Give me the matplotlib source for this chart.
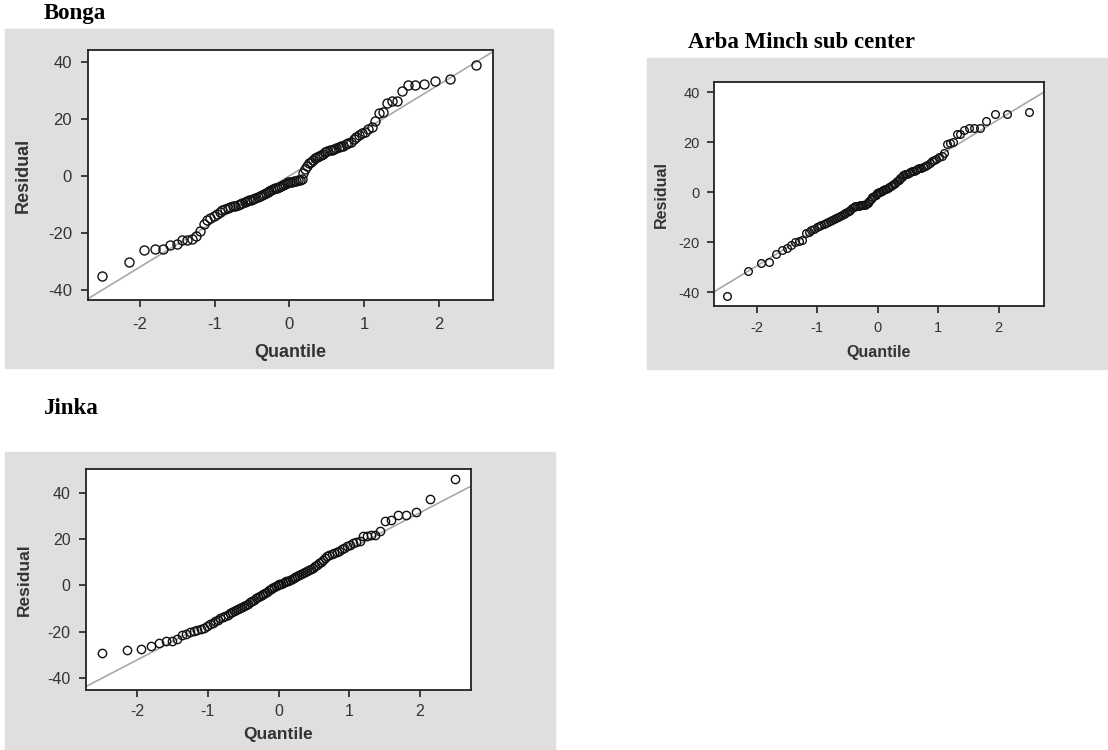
import matplotlib
matplotlib.use("Agg")
import matplotlib.pyplot as plt
from matplotlib.patches import Rectangle
from statistics import NormalDist
import numpy as np

plt.rcParams['axes.unicode_minus'] = False
plt.rcParams['font.family'] = ['Liberation Sans', 'DejaVu Sans']

# residuos ordenados (100 por estacao)
bonga_res = [-35.0, -30.3, -25.9, -25.7, -25.5, -24.1, -23.9, -22.5, -22.4, -22.3,
             -20.9, -19.2, -17.0, -15.6, -14.8, -14.0, -13.2, -12.5, -12.0, -11.6,
             -11.3, -11.0, -10.7, -10.4, -10.1, -9.8, -9.5, -9.2, -8.9, -8.6,
             -8.3, -8.0, -7.7, -7.4, -7.1, -6.7, -6.3, -6.0, -5.6, -5.3,
             -5.0, -4.7, -4.4, -4.1, -3.8, -3.5, -3.2, -2.9, -2.6, -2.3,
             -2.1, -2.0, -1.8, -1.7, -1.5, -1.3, -1.0, 1.0, 2.4, 3.6,
             4.4, 5.0, 5.6, 6.1, 6.6, 7.0, 7.4, 7.8, 8.2, 8.6,
             8.9, 9.2, 9.5, 9.8, 10.0, 10.3, 10.6, 11.0, 11.5, 12.0,
             12.8, 13.5, 14.4, 15.0, 15.5, 16.3, 17.2, 19.2, 22.2, 22.3,
             25.4, 26.2, 26.4, 29.7, 31.8, 32.0, 32.1, 33.2, 33.8, 38.7]

arba_res = [-41.4, -31.6, -28.4, -27.8, -24.7, -23.1, -22.4, -21.2, -20.0, -19.5,
            -19.1, -16.3, -15.7, -15.1, -14.5, -13.9, -13.4, -12.9, -12.5, -12.1,
            -11.7, -11.3, -10.9, -10.5, -10.1, -9.7, -9.3, -9.0, -8.6, -8.3,
            -7.9, -7.5, -6.9, -6.3, -5.9, -5.6, -5.4, -5.3, -5.2, -5.1,
            -5.0, -4.9, -4.8, -4.4, -3.4, -2.6, -2.0, -1.4, -0.9, -0.4,
            0.0, 0.3, 0.6, 0.9, 1.2, 1.5, 1.8, 2.1, 2.4, 2.8,
            3.3, 3.8, 4.4, 5.0, 5.6, 6.2, 6.8, 7.2, 7.5, 7.8,
            8.1, 8.4, 8.7, 9.0, 9.3, 9.6, 9.9, 10.2, 10.5, 11.0,
            11.7, 12.4, 13.0, 13.5, 14.0, 14.6, 15.8, 19.2, 19.8, 20.2,
            23.2, 23.4, 24.8, 25.6, 25.8, 25.9, 28.6, 31.3, 31.4, 32.0]

jinka_res = [-29.3, -28.1, -27.5, -26.2, -24.8, -24.2, -24.0, -23.1, -21.6, -20.9,
             -20.1, -19.8, -19.5, -19.1, -18.3, -17.6, -16.9, -16.1, -15.4, -14.9,
             -14.3, -13.7, -13.2, -12.7, -12.1, -11.6, -11.1, -10.6, -10.2, -9.8,
             -9.5, -9.1, -8.6, -8.0, -7.4, -6.8, -6.2, -5.6, -5.1, -4.6,
             -4.2, -3.7, -3.2, -2.7, -2.2, -1.7, -1.2, -0.7, -0.3, 0.1,
             0.4, 0.7, 1.0, 1.3, 1.7, 2.1, 2.5, 2.9, 3.3, 3.8,
             4.2, 4.6, 5.0, 5.4, 5.8, 6.3, 6.8, 7.2, 7.6, 8.2,
             8.9, 9.6, 10.3, 11.1, 11.8, 12.6, 13.2, 13.7, 14.1, 14.5,
             15.0, 15.7, 16.4, 17.1, 17.7, 18.2, 18.7, 19.3, 21.3, 21.6,
             21.8, 22.0, 23.5, 28.0, 28.1, 30.3, 30.5, 31.9, 37.4, 45.9]

# reta de referencia (intercepto, inclinacao)
bonga_line = (0.0, 16.0)
arba_line = (-0.1, 14.65)
jinka_line = (-0.4, 15.95)

x_ticks = [-2, -1, 0, 1, 2]
y_ticks = [-40, -20, 0, 20, 40]

W, H = 1108, 750
BG = "#dfdfdf"


def fig_rect(l, t, r, b):
    return [l / W, 1 - b / H, (r - l) / W, (b - t) / H]


def quantis(n):
    nd = NormalDist()
    return np.array([nd.inv_cdf((i - 0.375) / (n + 0.25)) for i in range(1, n + 1)])


fig = plt.figure(figsize=(W / 100, H / 100), dpi=100)

paineis = [
    dict(nome="Bonga", res=bonga_res, reta=bonga_line,
         fundo=(5, 29, 553, 368), caixa=(88, 50, 493, 300),
         xlim=(-2.69, 2.72), ylim=(-43.5, 44.1), titulo=(44, 14),
         fs_tick=12, fs_lab=13, ms=6.5, xpad=7.5, ypad=6.5,
         ylab_x=-0.138, xlab_y=-0.176),
    dict(nome="Arba Minch sub center", res=arba_res, reta=arba_line,
         fundo=(647, 58, 1108, 369), caixa=(714, 82, 1044, 306),
         xlim=(-2.71, 2.75), ylim=(-45.5, 44.2), titulo=(688, 42),
         fs_tick=10.5, fs_lab=11.5, ms=5.5, xpad=6, ypad=5,
         ylab_x=-0.136, xlab_y=-0.174),
    dict(nome="Jinka", res=jinka_res, reta=jinka_line,
         fundo=(5, 452, 555, 750), caixa=(86, 469, 471, 690),
         xlim=(-2.72, 2.72), ylim=(-45.3, 50.4), titulo=(44, 408),
         fs_tick=11.5, fs_lab=12.5, ms=6, xpad=5, ypad=6,
         ylab_x=-0.14, xlab_y=-0.167),
]

for p in paineis:
    l, t, r, b = p["fundo"]
    fig.patches.append(Rectangle((l / W, 1 - b / H), (r - l) / W, (b - t) / H,
                                 transform=fig.transFigure, color=BG, zorder=-5))
    fig.text(p["titulo"][0] / W, 1 - p["titulo"][1] / H, p["nome"],
             family="Liberation Serif", fontweight="bold", fontsize=16.5,
             va="center", ha="left", color="black")

    ax = fig.add_axes(fig_rect(*p["caixa"]))
    ax.set_zorder(3)
    ax.set_facecolor("white")
    res = np.array(p["res"])
    q = quantis(len(res))
    xl = np.array(p["xlim"])
    a, s = p["reta"]
    ax.plot(xl, a + s * xl, color="#a8a8a8", lw=1.2, zorder=1)
    ax.plot(q, res, "o", mfc="none", mec="#111111", mew=1.0, ms=p["ms"], zorder=2)
    ax.set_xlim(*p["xlim"])
    ax.set_ylim(*p["ylim"])
    ax.set_xticks(x_ticks)
    ax.set_yticks(y_ticks)
    ax.tick_params(labelsize=p["fs_tick"], labelcolor="#333333", color="#222222",
                   length=5, width=1.2, direction="out")
    ax.tick_params(axis="x", pad=p["xpad"])
    ax.tick_params(axis="y", pad=p["ypad"])
    for sp in ax.spines.values():
        sp.set_linewidth(1.3)
        sp.set_color("#222222")
    ax.set_ylabel("Residual", fontsize=p["fs_lab"], fontweight="bold", color="#333333")
    ax.set_xlabel("Quantile", fontsize=p["fs_lab"], fontweight="bold", color="#333333")
    ax.yaxis.set_label_coords(p["ylab_x"], 0.5)
    ax.xaxis.set_label_coords(0.5, p["xlab_y"])

fig.savefig("out.png", dpi=100)
